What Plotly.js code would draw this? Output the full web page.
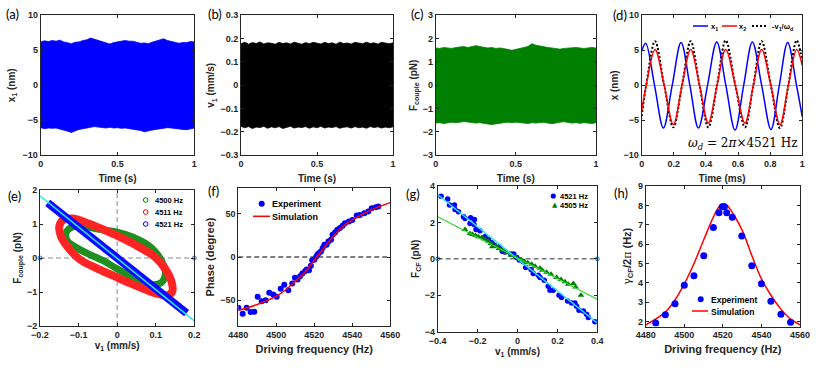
<!DOCTYPE html>
<html>
<head>
<meta charset="utf-8">
<script src="https://cdn.plot.ly/plotly-3.0.1.min.js"></script>
<style>body{margin:0;background:#fff}#fig{width:830px;height:370px}</style>
</head>
<body>
<div id="fig"></div>
<script>
// ---- data ----
// (a)-(c): envelope of the fast oscillation over 1 s
const tEnv = [0,0.025,0.05,0.075,0.1,0.125,0.15,0.175,0.2,0.225,0.25,0.275,0.3,0.325,0.35,0.375,0.4,0.425,0.45,0.475,0.5,
              0.525,0.55,0.575,0.6,0.625,0.65,0.675,0.7,0.725,0.75,0.775,0.8,0.825,0.85,0.875,0.9,0.925,0.95,0.975,1];
const x1Up = [6.2,6.35,6.25,6.4,6.3,6.45,6.2,6.1,5.95,6.15,6.2,6.4,6.5,6.75,6.6,6.4,6.2,6.05,5.9,6.1,6.2,
              6.35,6.4,6.3,6.3,6.15,6.0,6.05,5.95,6.15,6.3,6.45,6.65,6.4,6.3,6.15,6.0,6.1,6.1,6.25,6.2];
const x1Lo = [-6.05,-6.2,-6.1,-6.15,-6.1,-6.3,-6.4,-6.55,-6.75,-6.5,-6.3,-6.15,-6.1,-6.0,-5.9,-6.0,-6.05,-6.1,-6.0,-6.1,-6.05,
              -6.15,-6.1,-6.2,-6.25,-6.35,-6.45,-6.65,-6.55,-6.4,-6.3,-6.2,-6.1,-6.05,-6.1,-6.15,-6.2,-6.3,-6.35,-6.2,-6.1];
const v1Up = [0.178,0.185,0.176,0.183,0.179,0.186,0.177,0.182,0.18,0.176,0.184,0.179,0.182,0.177,0.185,0.18,0.176,0.183,0.178,0.184,0.18,
              0.177,0.184,0.179,0.182,0.176,0.185,0.179,0.181,0.177,0.184,0.18,0.178,0.185,0.179,0.182,0.177,0.184,0.18,0.178,0.182];
const v1Lo = [-0.176,-0.182,-0.177,-0.185,-0.179,-0.181,-0.176,-0.184,-0.178,-0.182,-0.177,-0.185,-0.18,-0.176,-0.183,-0.179,-0.181,-0.177,-0.184,-0.178,-0.182,
              -0.176,-0.183,-0.179,-0.181,-0.177,-0.184,-0.18,-0.178,-0.183,-0.177,-0.182,-0.179,-0.184,-0.177,-0.181,-0.178,-0.183,-0.179,-0.182,-0.178];
const fcUp = [1.6,1.58,1.62,1.6,1.58,1.62,1.65,1.66,1.62,1.66,1.7,1.66,1.63,1.6,1.62,1.58,1.6,1.58,1.54,1.5,1.55,
              1.6,1.62,1.66,1.78,1.72,1.68,1.65,1.62,1.6,1.58,1.55,1.58,1.6,1.6,1.62,1.6,1.58,1.6,1.62,1.6];
const fcLo = [-1.62,-1.6,-1.64,-1.6,-1.58,-1.6,-1.58,-1.55,-1.58,-1.6,-1.62,-1.6,-1.63,-1.66,-1.68,-1.65,-1.62,-1.6,-1.58,-1.6,-1.58,
              -1.6,-1.62,-1.64,-1.6,-1.62,-1.6,-1.58,-1.62,-1.65,-1.6,-1.58,-1.56,-1.6,-1.62,-1.6,-1.63,-1.6,-1.62,-1.64,-1.6];

// (d): peaks, troughs and zero crossings (ms, nm)
const dT1 = [0,0.025,0.08,0.135,0.19,0.245,0.3,0.353,0.41,0.467,0.524,0.581,0.635,0.689,0.747,0.805,0.857,0.909,0.964,1.0];
const dX1 = [4.9,6.0,0,-6.1,0,6.1,0,-6.1,0,6.2,0,-6.4,0,6.2,0,-6.3,0,6.1,0,-4.5];
const dT2 = [0,0.028,0.083,0.14,0.197,0.251,0.305,0.36,0.415,0.469,0.523,0.583,0.643,0.695,0.747,0.804,0.861,0.913,0.965,1.0];
const dX2 = [-3.7,0,5.1,0,-5.6,0,5.1,0,-5.4,0,5.1,0,-5.4,0,5.1,0,-5.6,0,5.1,2.8];
const dV  = [-4.4,0,6.3,0,-6.0,0,6.3,0,-6.0,0,6.4,0,-6.0,0,6.3,0,-6.1,0,6.4,3.4];

// (e): loops in the (v1, Fcouple) plane
const eGreenV = [-0.13,-0.1,-0.05,0.0,0.04,0.075,0.1,0.118,0.125,0.115,0.085,0.05,0.0,-0.036,-0.071,-0.105,-0.13,-0.13];
const eGreenF = [0.8,0.95,0.85,0.76,0.62,0.42,0.17,-0.15,-0.45,-0.72,-0.78,-0.62,-0.32,-0.08,0.1,0.3,0.52,0.8];
const eRedV = [-0.14,-0.114,-0.071,-0.028,0.016,0.059,0.098,0.124,0.141,0.143,0.13,0.1,0.076,0.033,-0.01,-0.054,-0.097,-0.125,-0.145,-0.15,-0.14];
const eRedF = [1.12,1.16,1.0,0.8,0.57,0.31,0.03,-0.31,-0.7,-0.98,-1.1,-1.04,-0.94,-0.74,-0.52,-0.3,-0.04,0.28,0.62,0.92,1.12];
const eBlueV = [-0.18,-0.1,0,0.1,0.18];
const eBlueF = [1.62,0.9,0,-0.9,-1.62];
const eFitV = [-0.2,0.2];
const eFitF = [1.83,-1.85];

// (f): phase vs driving frequency
const fExpHz = [4480,4482.3,4484.4,4486.5,4488.4,4490.2,4492.3,4494.4,4496.3,4498.4,4500.2,4502.3,4504.2,4506.3,4508.4,4509.8,4511.2,4512.5,
                4513.7,4515.1,4516,4517.2,4518.2,4518.9,4520,4520.9,4521.6,4522.5,4523.5,4524.4,4525.3,4526.5,4527.4,4528.8,4529.6,4530.9,
                4532.1,4533.5,4534.9,4536.1,4538.2,4540,4542.3,4544,4546.3,4548.4,4550.2,4552.3,4553.7];
const fExpPh = [-58.8,-65.8,-58.8,-63.8,-63.5,-46.2,-51.2,-50,-41.5,-43.5,-46.2,-36.9,-32.3,-38.5,-30.8,-24.2,-26.2,-22.3,
                -19.2,-16.5,-14.6,-15.4,-10,-3.8,-3.1,0,2.7,4.6,6.5,10.4,14.2,14.2,18.1,20,25.8,28.5,
                31.5,33.5,36.2,39.2,41.2,43,48,48.8,50.8,52.7,56.5,57.7,58.5];
const fSimHz = [4480,4490,4500,4505,4510,4515,4520,4525,4530,4535,4540,4550,4560];
const fSimPh = [-62,-55,-45.4,-38,-28,-17.7,-3.8,10.4,23.8,35.4,43,54.6,63];

// (g): F_CF vs v1
const g4521V = [-0.383,-0.35,-0.341,-0.316,-0.313,-0.296,-0.271,-0.263,-0.235,-0.216,-0.238,-0.218,-0.208,-0.188,-0.163,-0.146,-0.129,-0.116,
                -0.091,-0.076,-0.063,-0.033,-0.019,-0.004,0.009,0.029,0.041,0.068,0.079,0.104,0.113,0.134,0.154,0.163,0.179,0.208,
                0.221,0.251,0.271,0.288,0.296,0.308,0.33,0.346,0.355,0.388];
const g4521F = [3.44,3.28,2.95,2.95,2.71,2.58,2.31,2.22,2.25,2.16,1.94,1.89,1.61,1.54,1.21,1.06,0.88,0.75,
                0.66,0.42,0.38,0.26,0.26,0.07,-0.07,-0.16,-0.48,-0.59,-0.81,-0.9,-1.03,-1.17,-1.5,-1.72,-1.72,-2.0,
                -2.12,-2.31,-2.42,-2.42,-2.6,-2.82,-2.86,-3.04,-3.22,-3.46];
const g4505V = [-0.263,-0.238,-0.225,-0.21,-0.196,-0.179,-0.163,-0.146,-0.133,-0.126,-0.109,-0.093,-0.076,-0.054,-0.033,-0.009,
                0.018,0.034,0.051,0.071,0.088,0.113,0.124,0.146,0.168,0.196,0.218,0.238,0.255,0.28,0.291,0.318];
const g4505F = [1.61,1.39,1.34,1.28,1.21,1.17,1.08,0.97,0.84,0.66,0.71,0.57,0.48,0.33,0.2,0.11,
                -0.04,-0.15,-0.22,-0.29,-0.4,-0.51,-0.62,-0.73,-0.84,-1.03,-1.14,-1.26,-1.39,-1.36,-1.54,-2.0];
const gFitV = [-0.4,0.4];
const gFit4521 = [3.52,-3.52];
const gFit4505 = [2.31,-2.22];

// (h): gamma_CF/2pi vs driving frequency
const hExpHz = [4485.2,4490.2,4495.2,4500,4505,4510.1,4515.1,4518,4519.7,4520.8,4522,4524.9,4529.8,4535,4540,4544.9,4550.1,4555.1];
const hExpG  = [1.93,2.35,2.93,3.88,4.37,5.4,6.86,7.62,7.93,7.93,7.62,7.39,6.42,4.89,3.95,3.05,2.38,1.97];
const hSimHz = [4480,4490,4495,4500,4505,4510,4515,4518,4520,4522,4525,4530,4535,4540,4545,4550,4555,4560];
const hSimG  = [1.83,2.48,3.09,3.95,4.99,6.2,7.38,7.93,8.07,8.01,7.62,6.72,5.42,4.21,3.35,2.66,2.14,1.84];

// ---- helpers ----
const W = 830, H = 370;
const SANS = 'Liberation Sans, Arial, sans-serif';
const INK = '#262626';
const px = x => x / W;
const py = y => 1 - y / H;

function band(t, up, lo, color, n) {
    return {x: t.concat(t.slice().reverse()), y: up.concat(lo.slice().reverse()),
            mode: 'lines', fill: 'toself', fillcolor: color, line: {color: color, width: 0.8},
            xaxis: 'x' + n, yaxis: 'y' + n};
}

function axis(domain, range, dtick, anchor, title, tsize, standoff) {
    return {
        domain: domain, range: range, dtick: dtick, anchor: anchor,
        ticks: 'inside', ticklen: 3, tickcolor: INK, showline: true, linecolor: INK, linewidth: 1,
        mirror: 'ticks', zeroline: false, showgrid: false, fixedrange: true,
        tickfont: {family: SANS, size: 9, color: INK, weight: 'bold'},
        title: {text: title, standoff: standoff, font: {family: SANS, size: tsize, color: INK, weight: 'bold'}}
    };
}

// pixel boxes [left, top, right, bottom] of each panel
const boxes = [
    [40.7, 15.3, 194.3, 155.3], [241, 15.3, 393, 155.3], [435.7, 15.3, 596, 155.3], [641.7, 15.3, 802.3, 155.3],
    [40, 190, 194.3, 326], [238.3, 188, 390.3, 326], [437.7, 186, 597.3, 331.7], [645.7, 186, 800, 326.5]
];
const xd = b => [px(b[0]), px(b[2])];
const yd = b => [py(b[3]), py(b[1])];

const gamma = '<span style="font-family:DejaVu Serif;font-weight:normal">γ</span>';
const piS = '<span style="font-family:DejaVu Serif;font-weight:normal">π</span>';

// [range, dtick, title, title size, standoff]
const xs = [
    [[0, 1], 0.5, 'Time (s)', 10, 6], [[0, 1], 0.5, 'Time (s)', 10, 6], [[0, 1], 0.5, 'Time (s)', 10, 6], [[0, 1], 0.2, 'Time (ms)', 10, 6],
    [[-0.2, 0.2], 0.1, 'v<sub>1</sub> (mm/s)', 10, 3], [[4480, 4560], 20, 'Driving frequency (Hz)', 11, 6],
    [[-0.4, 0.4], 0.2, 'v<sub>1</sub> (mm/s)', 10, 2], [[4480, 4560], 20, 'Driving frequency (Hz)', 11, 6]
];
const ys = [
    [[-10, 10], 5, 'x<sub>1</sub> (nm)', 10, 5], [[-0.3, 0.3], 0.1, 'v<sub>1</sub> (mm/s)', 10, 3],
    [[-3, 3], 1, 'F<sub>couple</sub> (pN)', 10, 3], [[-10, 10], 5, 'x (nm)', 10, 3],
    [[-2, 2], 1, 'F<sub>couple</sub> (pN)', 10, 3], [[-80, 80], 50, 'Phase (degree)', 11, 3],
    [[-4, 4], 2, 'F<sub>CF</sub> (pN)', 10, 3], [[1.75, 9], 1, gamma + '<sub>CF</sub>/2' + piS + ' (Hz)', 11, 4]
];

const layout = {
    width: W, height: H, margin: {l: 0, r: 0, t: 0, b: 0},
    paper_bgcolor: '#fff', plot_bgcolor: '#fff', showlegend: false,
    shapes: [], annotations: []
};
for (let i = 0; i < 8; i++) {
    const n = i === 0 ? '' : String(i + 1);
    layout['xaxis' + n] = axis(xd(boxes[i]), xs[i][0], xs[i][1], 'y' + n, xs[i][2], xs[i][3], xs[i][4]);
    layout['yaxis' + n] = axis(yd(boxes[i]), ys[i][0], ys[i][1], 'x' + n, ys[i][2], ys[i][3], ys[i][4]);
}
layout.yaxis4.zeroline = true;
layout.yaxis4.zerolinecolor = '#b5b5b5';
layout.yaxis4.zerolinewidth = 1;

// panel letters
const letters = [['(a)', 4, 14], ['(b)', 206, 14], ['(c)', 409, 14], ['(d)', 611, 15],
                 ['(e)', 6, 196], ['(f)', 206, 191], ['(g)', 404, 194], ['(h)', 612, 193]];
letters.forEach(l => layout.annotations.push({
    text: l[0], xref: 'paper', yref: 'paper', x: px(l[1]), y: py(l[2]), xanchor: 'left', yanchor: 'middle',
    showarrow: false, font: {family: 'Lato, Open Sans, sans-serif', size: 13, color: '#000'}
}));

// hand-made legends
function key(x0, x1, y, color, dash, width) {
    layout.shapes.push({type: 'line', xref: 'paper', yref: 'paper', x0: px(x0), x1: px(x1), y0: py(y), y1: py(y),
                        line: {color: color, width: width || 1.5, dash: dash || 'solid'}});
}
function dot(x, y, r, color, open) {
    layout.shapes.push({type: 'circle', xref: 'paper', yref: 'paper', x0: px(x - r), x1: px(x + r), y0: py(y + r), y1: py(y - r),
                        fillcolor: open ? 'rgba(0,0,0,0)' : color, line: {color: color, width: open ? 1 : 0}});
}
function label(x, y, text, size, extra) {
    layout.annotations.push(Object.assign({
        text: text, xref: 'paper', yref: 'paper', x: px(x), y: py(y), xanchor: 'left', yanchor: 'middle',
        showarrow: false, font: {family: SANS, size: size, color: '#000', weight: 'bold'}
    }, extra || {}));
}

// (d)
key(693, 708, 26, '#0000ff');
label(709, 26.5, 'x<sub>1</sub>', 7.5);
key(722, 737, 26, '#ff0000');
label(737, 26.5, 'x<sub>2</sub>', 7.5);
key(752, 767, 26, '#000', '2px,2px', 2);
label(770, 26.5, '-v<sub>1</sub>/ω<sub>d</sub>', 7.5);
label(686, 144, '<i>ω</i><sub><i>d</i></sub> = 2<i>π</i>×4521 Hz', 12,
      {font: {family: 'DejaVu Serif, serif', size: 12, color: '#000'}});
// (e)
dot(145.7, 200, 2.3, '#008000', true); label(153, 200, '4500 Hz', 7.5);
dot(145.7, 212, 2.3, '#ff0000', true); label(153, 212, '4511 Hz', 7.5);
dot(145.7, 224, 2.3, '#0000ff', true); label(153, 224, '4521 Hz', 7.5);
// (f)
dot(261.7, 203.7, 3, '#0000ff'); label(270, 204, 'Experiment', 9);
key(253, 270, 216.3, '#ff0000'); label(270, 216.5, 'Simulation', 9);
// (g)
dot(553.3, 196, 2.6, '#0000ff'); label(558, 196, '4521 Hz', 7.5);
label(549.5, 205, '▲', 7, {font: {family: 'DejaVu Sans', size: 7, color: '#008000'}});
label(558, 205, '4505 Hz', 7.5);
// (h)
dot(700.7, 299.3, 3, '#0000ff'); label(709, 299.5, 'Experiment', 8.5);
key(692, 708, 311, '#ff0000'); label(709, 311.5, 'Simulation', 8.5);

// ---- traces ----
const traces = [
    band(tEnv, x1Up, x1Lo, '#0000ff', ''),
    band(tEnv, v1Up, v1Lo, '#000000', '2'),
    band(tEnv, fcUp, fcLo, '#008000', '3'),

    {x: dT1, y: dX1, mode: 'lines', line: {color: '#0000ff', width: 1.5, shape: 'spline', smoothing: 1}, xaxis: 'x4', yaxis: 'y4'},
    {x: dT2, y: dV, mode: 'lines', line: {color: '#000', width: 2, dash: '2px,2px', shape: 'spline', smoothing: 1}, xaxis: 'x4', yaxis: 'y4'},
    {x: dT2, y: dX2, mode: 'lines', line: {color: '#ff0000', width: 1.5, shape: 'spline', smoothing: 1}, xaxis: 'x4', yaxis: 'y4'},

    {x: [0, 0], y: [-2, 2], mode: 'lines', line: {color: '#8a8a8a', width: 1, dash: '5px,3px'}, xaxis: 'x5', yaxis: 'y5'},
    {x: [-0.2, 0.2], y: [0, 0], mode: 'lines+markers', line: {color: '#8a8a8a', width: 1, dash: '5px,3px'},
     marker: {size: 4, color: '#9fd0f0', line: {color: '#4a8fc4', width: 1}}, cliponaxis: false, xaxis: 'x5', yaxis: 'y5'},
    {x: eGreenV, y: eGreenF, mode: 'lines', line: {color: '#1f8f1f', width: 7, shape: 'spline', smoothing: 1}, xaxis: 'x5', yaxis: 'y5'},
    {x: eRedV, y: eRedF, mode: 'lines', line: {color: '#ff2424', width: 8, shape: 'spline', smoothing: 1}, xaxis: 'x5', yaxis: 'y5'},
    {x: eBlueV, y: eBlueF, mode: 'lines', line: {color: '#0a0aff', width: 8}, xaxis: 'x5', yaxis: 'y5'},
    {x: eFitV, y: eFitF, mode: 'lines', line: {color: '#2ee6f0', width: 1.5}, xaxis: 'x5', yaxis: 'y5'},

    {x: [4480, 4560], y: [0, 0], mode: 'lines', line: {color: '#000', width: 1, dash: '5px,3px'}, xaxis: 'x6', yaxis: 'y6'},
    {x: fExpHz, y: fExpPh, mode: 'markers', marker: {size: 6, color: '#0000ff'}, xaxis: 'x6', yaxis: 'y6'},
    {x: fSimHz, y: fSimPh, mode: 'lines', line: {color: '#ff0000', width: 1.5, shape: 'spline', smoothing: 1}, xaxis: 'x6', yaxis: 'y6'},

    {x: [-0.4, 0.4], y: [0, 0], mode: 'lines+markers', line: {color: '#333', width: 1, dash: '5px,3px'},
     marker: {size: 4, color: '#9fd0f0', line: {color: '#4a8fc4', width: 1}}, cliponaxis: false, xaxis: 'x7', yaxis: 'y7'},
    {x: g4521V, y: g4521F, mode: 'markers', marker: {size: 5.5, color: '#0000ff'}, xaxis: 'x7', yaxis: 'y7'},
    {x: g4505V, y: g4505F, mode: 'markers', marker: {size: 6, symbol: 'triangle-up', color: '#008000'}, xaxis: 'x7', yaxis: 'y7'},
    {x: gFitV, y: gFit4521, mode: 'lines', line: {color: '#2ee6f0', width: 1.5}, xaxis: 'x7', yaxis: 'y7'},
    {x: gFitV, y: gFit4505, mode: 'lines', line: {color: '#2fd62f', width: 1.2}, xaxis: 'x7', yaxis: 'y7'},

    {x: hSimHz, y: hSimG, mode: 'lines', line: {color: '#ff0000', width: 1.5, shape: 'spline', smoothing: 1}, xaxis: 'x8', yaxis: 'y8'},
    {x: hExpHz, y: hExpG, mode: 'markers', marker: {size: 7, color: '#0000ff'}, xaxis: 'x8', yaxis: 'y8'}
];

Plotly.newPlot('fig', traces, layout, {displayModeBar: false, staticPlot: true});
</script>
</body>
</html>
